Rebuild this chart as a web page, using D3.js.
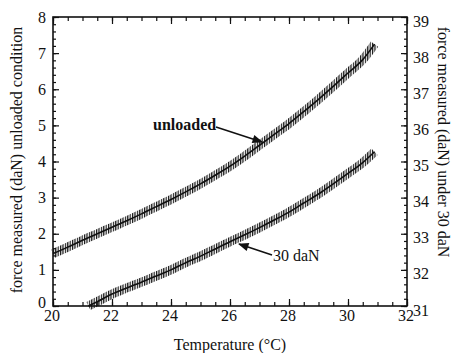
<!DOCTYPE html>
<html><head><meta charset="utf-8">
<script src="https://cdn.jsdelivr.net/npm/d3@7"></script>
<style>body{margin:0;background:#fff}svg{display:block}</style>
</head><body><svg id="c" width="460" height="353"></svg>
<script>
// temperature (°C)
const tempUnloaded = [20,20.5,21,21.5,22,22.5,23,23.5,24,24.5,25,25.5,26,26.5,27,27.5,28,28.5,29,29.5,30,30.5,30.9];
// force measured, unloaded condition (daN, left axis)
const forceUnloaded = [1.45,1.63,1.82,2.0,2.18,2.36,2.55,2.75,2.95,3.16,3.38,3.62,3.87,4.15,4.45,4.75,5.05,5.38,5.72,6.08,6.45,6.82,7.25];
const temp30 = [21.2,21.5,22,22.5,23,23.5,24,24.5,25,25.5,26,26.5,27,27.5,28,28.5,29,29.5,30,30.5,30.9];
// force measured under 30 daN (daN, right axis)
const force30 = [31.0,31.12,31.33,31.5,31.66,31.83,32.0,32.2,32.38,32.58,32.78,32.97,33.17,33.38,33.6,33.85,34.1,34.38,34.67,34.97,35.27];
const xTicks = [20,22,24,26,28,30,32];
const yLeftTicks = [0,1,2,3,4,5,6,7,8];
const yRightTicks = [31,32,33,34,35,36,37,38,39];

const FONT = "'Liberation Serif','Times New Roman',Times,serif";
const svg = d3.select("#c").attr("font-family",FONT);
const L=53,R=407,T=17,B=306;
const x = d3.scaleLinear().domain([20,32]).range([L,R]);
const yL = d3.scaleLinear().domain([0,8]).range([B,T]);
const yR = d3.scaleLinear().domain([31,39]).range([B,T]);

// hatch pattern for noisy vertical marks
const defs = svg.append("defs");
const pat = defs.append("pattern").attr("id","hatch").attr("patternUnits","userSpaceOnUse")
  .attr("width",2.4).attr("height",10);
pat.append("rect").attr("x",0).attr("y",0).attr("width",1.2).attr("height",10).attr("fill","#111");

const g = svg.append("g");
function drawSeries(xs, ys, yScale){
  const pts = xs.map((t,i)=>[t,ys[i]]);
  const line = d3.line().x(d=>x(d[0])).y(d=>yScale(d[1])).curve(d3.curveMonotoneX);
  g.append("path").attr("d",line(pts)).attr("fill","none").attr("stroke","url(#hatch)").attr("stroke-width",9);
  g.append("path").attr("d",line(pts)).attr("fill","none").attr("stroke","#111").attr("stroke-width",1.6);
}
drawSeries(tempUnloaded, forceUnloaded, yL);
drawSeries(temp30, force30, yR);

// axes (ticks inside)
const fmt = d3.format("d");
const ax = svg.append("g");
ax.append("g").attr("transform",`translate(0,${B})`).call(d3.axisBottom(x).tickValues(d3.range(20,32.01,0.5)).tickSize(-4).tickFormat(""));
ax.append("g").attr("transform",`translate(0,${B})`).call(d3.axisBottom(x).tickValues(xTicks).tickSize(-7).tickFormat(""));
ax.append("g").attr("transform",`translate(0,${T})`).call(d3.axisTop(x).tickValues(d3.range(20,32.01,0.5)).tickSize(-4).tickFormat(""));
ax.append("g").attr("transform",`translate(0,${T})`).call(d3.axisTop(x).tickValues(xTicks).tickSize(-7).tickFormat(""));
ax.append("g").attr("transform",`translate(${L},0)`).call(d3.axisLeft(yL).tickValues(d3.range(0,8.01,0.2)).tickSize(-3).tickFormat(""));
ax.append("g").attr("transform",`translate(${L},0)`).call(d3.axisLeft(yL).tickValues(yLeftTicks).tickSize(-6).tickFormat(""));
ax.append("g").attr("transform",`translate(${R},0)`).call(d3.axisRight(yR).tickValues(d3.range(31,39.01,0.2)).tickSize(-3).tickFormat(""));
ax.append("g").attr("transform",`translate(${R},0)`).call(d3.axisRight(yR).tickValues(yRightTicks).tickSize(-6).tickFormat(""));
ax.selectAll(".domain").remove();
ax.selectAll(".tick line").attr("stroke","#111").attr("stroke-width",1.2);
svg.append("rect").attr("x",L).attr("y",T).attr("width",R-L).attr("height",B-T)
  .attr("fill","none").attr("stroke","#111").attr("stroke-width",1.6);

// tick labels
svg.append("g").selectAll("text").data(yLeftTicks).join("text")
  .attr("font-family",FONT).attr("fill","#111")
  .attr("x",46).attr("y",d=>yL(d) + (d===0?-4:0)).attr("dy","0.35em").attr("text-anchor","end")
  .attr("font-size",16).text(fmt);
svg.append("g").selectAll("text").data(yRightTicks).join("text")
  .attr("font-family",FONT).attr("fill","#111")
  .attr("x",413).attr("y",d=>yR(d)+4).attr("dy","0.35em").attr("text-anchor","start")
  .attr("font-size",16).text(fmt);
svg.append("g").selectAll("text").data(xTicks).join("text")
  .attr("font-family",FONT).attr("fill","#111")
  .attr("x",d=>x(d)-1).attr("y",321).attr("text-anchor","middle")
  .attr("font-size",16).text(fmt);

// axis titles
svg.append("text").attr("font-family",FONT).attr("fill","#111").attr("x",(L+R)/2).attr("y",350).attr("text-anchor","middle").attr("font-size",16)
  .text("Temperature (°C)");
svg.append("text").attr("font-family",FONT).attr("fill","#111").attr("transform",`translate(22,${160}) rotate(-90)`).attr("text-anchor","middle")
  .attr("font-size",16).text("force measured (daN) unloaded condition");
svg.append("text").attr("font-family",FONT).attr("fill","#111").attr("transform",`translate(438,${142}) rotate(90)`).attr("text-anchor","middle")
  .attr("font-size",16).text("force measured (daN) under 30 daN");

// annotations
defs.append("marker").attr("id","arr").attr("viewBox","0 0 10 10").attr("refX",9).attr("refY",5)
  .attr("markerWidth",9).attr("markerHeight",7).attr("orient","auto")
  .append("path").attr("d","M0,1 L10,5 L0,9 z").attr("fill","#111");
svg.append("text").attr("font-family",FONT).attr("fill","#111").attr("x",153).attr("y",130).attr("font-size",16).attr("font-weight","bold").text("unloaded");
svg.append("line").attr("x1",216).attr("y1",127).attr("x2",262).attr("y2",142)
  .attr("stroke","#111").attr("stroke-width",1.5).attr("marker-end","url(#arr)");
svg.append("text").attr("font-family",FONT).attr("fill","#111").attr("x",273).attr("y",261).attr("font-size",16).text("30 daN");
svg.append("line").attr("x1",272).attr("y1",255).attr("x2",239).attr("y2",244)
  .attr("stroke","#111").attr("stroke-width",1.5).attr("marker-end","url(#arr)");
</script></body></html>
